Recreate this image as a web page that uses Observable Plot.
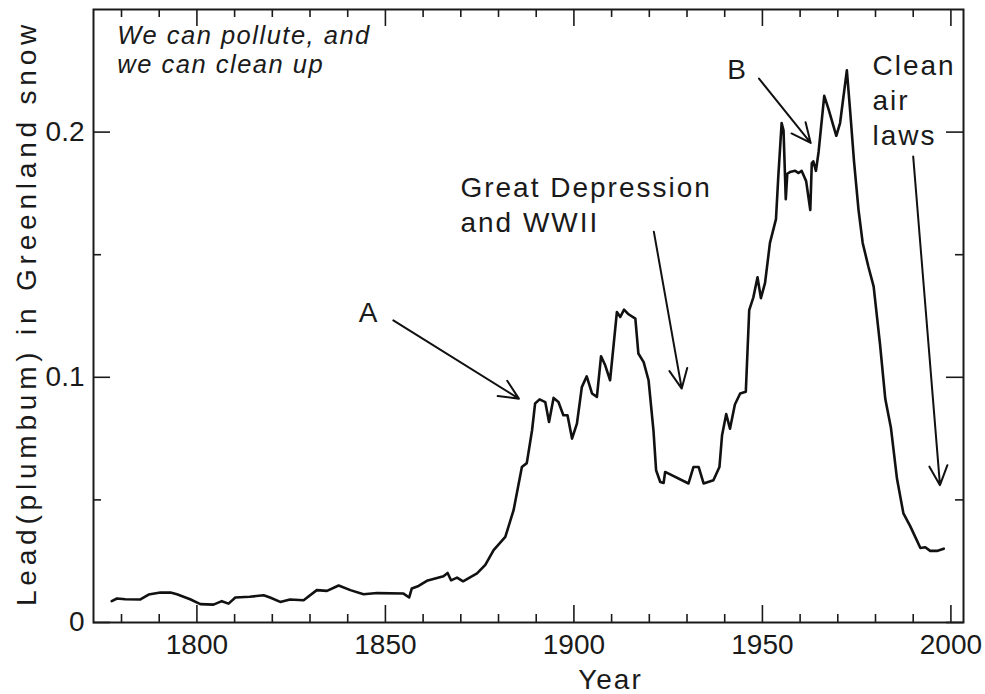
<!DOCTYPE html>
<html>
<head>
<meta charset="utf-8">
<script src="https://cdn.jsdelivr.net/npm/d3@7"></script>
<script src="https://cdn.jsdelivr.net/npm/@observablehq/plot@0.6"></script>
<style>
  html, body { margin: 0; padding: 0; background: #fff; }
  #chart svg { display: block; }
</style>
</head>
<body>
<div id="chart"></div>
<script>
// ---- data ----
const years = [1777.4, 1778.8, 1781, 1785, 1787.2, 1790.3, 1793, 1794.7, 1798.2, 1800.9,
  1804.4, 1806.6, 1808.4, 1810.2, 1814, 1817.7, 1819.4, 1822.1, 1824.7, 1828.3,
  1831.8, 1834.5, 1837.6, 1840.7, 1844.2, 1847.8, 1854.8, 1856.3, 1857, 1858.8,
  1861, 1865.4, 1866.5, 1867.4, 1869, 1870.6, 1874.3, 1876.5, 1878.7, 1881.8,
  1884, 1886.2, 1887.5, 1888.9, 1889.7, 1890.9, 1892.4, 1893.4, 1894.6, 1895.9,
  1897.2, 1898.3, 1899.5, 1900.8, 1902.1, 1903.4, 1904.8, 1906.1, 1907.2, 1908.3,
  1909.6, 1911.4, 1912.3, 1913.3, 1914.5, 1916.3, 1917.1, 1918.5, 1919.8, 1921.1,
  1921.8, 1922.9, 1923.8, 1924.2, 1930.4, 1931.7, 1933.1, 1934.4, 1937, 1938.6,
  1939.3, 1940.4, 1941.4, 1942.7, 1944.1, 1945.6, 1946.5, 1947.6, 1948.7, 1949.6,
  1950.7, 1952, 1953.6, 1954.2, 1955.1, 1955.6, 1956.2, 1956.6, 1957.3, 1958.7,
  1959.6, 1960.4, 1961.6, 1962.7, 1963.1, 1963.5, 1964.2, 1964.9, 1966.4, 1967.5,
  1969.6, 1970.6, 1972.4, 1973.3, 1974.3, 1975.5, 1976.6, 1978.1, 1979.5, 1981.2,
  1982.6, 1984.1, 1985.7, 1987.4, 1989.2, 1991, 1991.9, 1993.2, 1994.5, 1996.3, 1998.1];
const lead = [0.0087, 0.0098, 0.0095, 0.0094, 0.0114, 0.0122, 0.0122, 0.0115, 0.0095, 0.0075,
  0.0073, 0.0087, 0.0077, 0.0102, 0.0105, 0.0111, 0.0102, 0.0084, 0.0094, 0.0091,
  0.0132, 0.0129, 0.0151, 0.0132, 0.0115, 0.0120, 0.0118, 0.0102, 0.0139, 0.0149,
  0.0170, 0.0189, 0.0202, 0.0172, 0.0183, 0.0168, 0.0200, 0.0235, 0.0295, 0.0349,
  0.0458, 0.0634, 0.0650, 0.0784, 0.0893, 0.0910, 0.0899, 0.0818, 0.0916, 0.0899,
  0.0845, 0.0845, 0.0750, 0.0811, 0.0960, 0.1004, 0.0934, 0.0920, 0.1086, 0.1049,
  0.0988, 0.1266, 0.1246, 0.1276, 0.1257, 0.1239, 0.1097, 0.1062, 0.0988, 0.0784,
  0.0621, 0.0573, 0.0569, 0.0614, 0.0567, 0.0634, 0.0634, 0.0567, 0.0580, 0.0634,
  0.0764, 0.0850, 0.0790, 0.0889, 0.0934, 0.0941, 0.1274, 0.1326, 0.1408, 0.1323,
  0.1385, 0.1548, 0.1645, 0.1815, 0.2037, 0.2007, 0.1726, 0.1830, 0.1837, 0.1842,
  0.1833, 0.1842, 0.1800, 0.1682, 0.1874, 0.1881, 0.1842, 0.1919, 0.2148, 0.2096,
  0.1985, 0.2037, 0.2252, 0.2081, 0.1881, 0.1682, 0.1548, 0.1452, 0.1371, 0.1134,
  0.0911, 0.0793, 0.0586, 0.0445, 0.0393, 0.0334, 0.0304, 0.0307, 0.0292, 0.0292, 0.0301];

const xMajor = [1800, 1850, 1900, 1950, 2000];
const xLabels = ["1800", "1850", "1900", "1950", "2000"];
const xMinor = [1780, 1790, 1810, 1820, 1830, 1840, 1860, 1870, 1880, 1890,
  1910, 1920, 1930, 1940, 1960, 1970, 1980, 1990];
const yMajor = [0, 0.1, 0.2];
const yLabels = ["0", "0.1", "0.2"];
const yMinor = [0.05, 0.15];

const xTitle = "Year";
const yTitle = "Lead(plumbum) in Greenland snow";
const subtitle = "We can pollute, and\nwe can clean up";

// annotations (data coordinates)
const noteText = ["A", "Great Depression\nand WWII", "B", "Clean\nair\nlaws"];
const noteX = [1845.7, 1869.9, 1943.4, 1979.2];
const noteY = [0.1224, 0.1591, 0.2215, 0.1946];
const arrowX1 = [1852.1, 1921.2, 1949.1, 1990.0];
const arrowY1 = [0.1232, 0.1594, 0.2218, 0.1900];
const arrowX2 = [1885.4, 1928.6, 1962.8, 1997.1];
const arrowY2 = [0.0913, 0.0954, 0.1956, 0.0560];

// ---- layout ----
const W = 985, H = 694;
const mL = 93, mR = 22, mT = 9, mB = 72;
const X0 = 1772.57, X1 = 2003.34, Y0 = 0, Y1 = 0.25;
const kx = (W - mL - mR) / (X1 - X0);
const ky = (H - mT - mB) / (Y1 - Y0);
const maj = 17, mnr = 8;
const ink = "#1a1a1a";

const series = years.map((y, i) => ({year: y, lead: lead[i]}));
const arrows = arrowX1.map((d, i) => ({x1: d, y1: arrowY1[i], x2: arrowX2[i], y2: arrowY2[i]}));
const notes = noteText.map((t, i) => ({t, x: noteX[i], y: noteY[i]}));
const centered = notes.filter(d => d.t.length === 1);
const leftAligned = notes.filter(d => d.t.length > 1);

const chart = Plot.plot({
  width: W, height: H,
  marginLeft: mL, marginRight: mR, marginTop: mT, marginBottom: mB,
  style: {fontFamily: "'Liberation Sans', Arial, Helvetica, sans-serif", color: ink, background: "#fff", overflow: "visible"},
  x: {domain: [X0, X1], label: null},
  y: {domain: [Y0, Y1], label: null},
  marks: [
    // ticks (inward, on all four sides)
    Plot.ruleX(xMajor, {x: d => d, y1: Y0, y2: Y0 + maj / ky, stroke: ink, strokeWidth: 1.6}),
    Plot.ruleX(xMajor, {x: d => d, y1: Y1 - maj / ky, y2: Y1, stroke: ink, strokeWidth: 1.6}),
    Plot.ruleX(xMinor, {x: d => d, y1: Y0, y2: Y0 + mnr / ky, stroke: ink, strokeWidth: 1.6}),
    Plot.ruleX(xMinor, {x: d => d, y1: Y1 - mnr / ky, y2: Y1, stroke: ink, strokeWidth: 1.6}),
    Plot.ruleY(yMajor, {y: d => d, x1: X0, x2: X0 + maj / kx, stroke: ink, strokeWidth: 1.6}),
    Plot.ruleY(yMajor, {y: d => d, x1: X1 - maj / kx, x2: X1, stroke: ink, strokeWidth: 1.6}),
    Plot.ruleY(yMinor, {y: d => d, x1: X0, x2: X0 + mnr / kx, stroke: ink, strokeWidth: 1.6}),
    Plot.ruleY(yMinor, {y: d => d, x1: X1 - mnr / kx, x2: X1, stroke: ink, strokeWidth: 1.6}),
    Plot.frame({stroke: ink, strokeWidth: 2}),
    // tick labels
    Plot.axisX(xMajor, {tickSize: 0, tickPadding: 12, fontSize: 28, label: null,
      tickFormat: d => xLabels[xMajor.indexOf(d)]}),
    Plot.axisY(yMajor, {tickSize: 0, tickPadding: 9, fontSize: 28, label: null,
      tickFormat: d => yLabels[yMajor.indexOf(d)]}),
    // axis titles
    Plot.text([xTitle], {x: () => 1909.7, frameAnchor: "bottom", dy: 66, lineAnchor: "bottom",
      textAnchor: "middle", fontSize: 28, fill: ink}),
    Plot.text([yTitle], {frameAnchor: "left", rotate: -90, dx: -58, dy: -3, lineAnchor: "bottom",
      textAnchor: "middle", fontSize: 28, fill: ink}),
    // the series
    Plot.line(series, {x: "year", y: "lead", stroke: "#111", strokeWidth: 2.6,
      strokeLinejoin: "round", strokeLinecap: "round"}),
    // annotations
    Plot.arrow(arrows, {x1: "x1", y1: "y1", x2: "x2", y2: "y2", stroke: "#111", strokeWidth: 2,
      headLength: 16, headAngle: 50}),
    Plot.text(centered, {x: "x", y: "y", text: "t", textAnchor: "middle", lineAnchor: "bottom",
      fontSize: 28, fill: ink, lineHeight: 1.26}),
    Plot.text(leftAligned, {x: "x", y: "y", text: "t", textAnchor: "start", lineAnchor: "bottom",
      fontSize: 28, fill: ink, lineHeight: 1.26}),
    Plot.text([subtitle], {x: () => 1778.9, y: () => 0.2243, textAnchor: "start", lineAnchor: "bottom",
      fontSize: 25.5, fontStyle: "italic", fill: ink, lineHeight: 1.1})
  ]
});

// letter spacing to match the reference typesetting
d3.select(chart).selectAll("text").each(function () {
  const t = this.textContent;
  let ls = 2;
  if (xLabels.includes(t) || yLabels.includes(t)) ls = 0;
  else if (t === yTitle) ls = 4.8;
  else if (t.startsWith("We can")) ls = 1.5;
  this.setAttribute("letter-spacing", ls + "px");
});

document.getElementById("chart").appendChild(chart);
</script>
</body>
</html>
